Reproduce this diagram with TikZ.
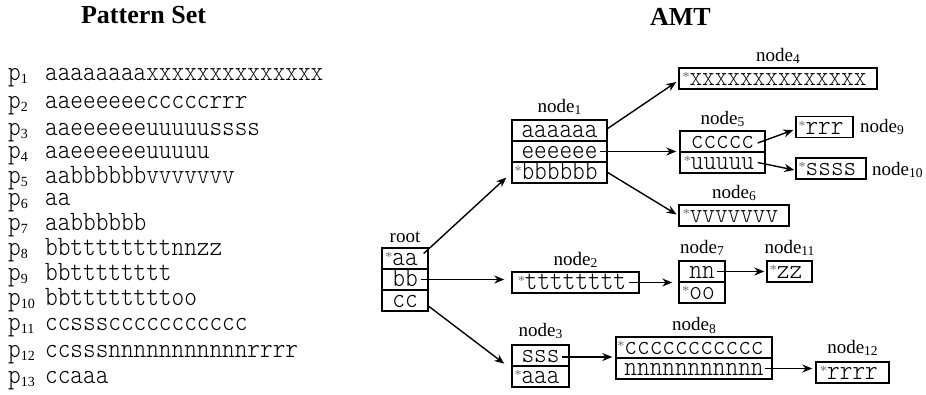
\documentclass[tikz,border=0pt]{standalone}
\usepackage{fontspec}
\setmainfont{Liberation Serif}
\newfontfamily\pmono{lmmonolt10-regular.otf}[FakeStretch=0.86]
\usetikzlibrary{arrows.meta}
\newcommand\psub[1]{\raisebox{-2.5pt}{\fontsize{13.5}{13.5}\selectfont #1}}
\newcommand\lsub[1]{\raisebox{-3pt}{\fontsize{14}{14}\selectfont\rmfamily #1}}
\newcommand\st{\llap{\raisebox{4pt}{\color{black!55}\fontsize{14}{14}\selectfont\rmfamily *}}}
\begin{document}
\begin{tikzpicture}[x=1pt,y=-1pt,
  cell/.style={draw, line width=1.4pt, inner xsep=0pt, inner ysep=0pt,
    minimum width=#1, minimum height=21pt, text height=17pt, text depth=2.5pt,
    font=\pmono\fontsize{28}{28}\selectfont},
  lbl/.style={font=\fontsize{19}{19}\selectfont, inner sep=0pt, anchor=base},
  ttl/.style={font=\fontsize{26}{26}\selectfont\bfseries, inner sep=0pt, anchor=base},
  pl/.style={font=\pmono\fontsize{28}{28}\selectfont, inner sep=0pt, anchor=base west},
  arr/.style={line width=1.4pt, -{Stealth[length=10pt,width=8pt]}}]
\useasboundingbox (0,0) rectangle (926,394);

% titles
\node[ttl] (t1) at (143.5,23) {Pattern Set};
\node[ttl] (t2) at (680.5,25.5) {AMT};

% pattern set
\node[pl] (l1) at (8,80) {p\lsub{1}};   \node[pl] (s1) at (45,80) {aaaaaaaaxxxxxxxxxxxxxx};
\node[pl] (l2) at (8,108) {p\lsub{2}};  \node[pl] (s2) at (45,108) {aaeeeeeecccccrrr};
\node[pl] (l3) at (8,135) {p\lsub{3}};  \node[pl] (s3) at (45,135) {aaeeeeeeuuuuussss};
\node[pl] (l4) at (8,158) {p\lsub{4}};  \node[pl] (s4) at (45,158) {aaeeeeeeuuuuu};
\node[pl] (l5) at (8,183) {p\lsub{5}};  \node[pl] (s5) at (45,183) {aabbbbbbvvvvvvv};
\node[pl] (l6) at (8,205) {p\lsub{6}};  \node[pl] (s6) at (45,205) {aa};
\node[pl] (l7) at (8,230) {p\lsub{7}};  \node[pl] (s7) at (45,230) {aabbbbbb};
\node[pl] (l8) at (8,255) {p\lsub{8}};  \node[pl] (s8) at (45,255) {bbttttttttnnzz};
\node[pl] (l9) at (8,280) {p\lsub{9}};  \node[pl] (s9) at (45,280) {bbtttttttt};
\node[pl] (l10) at (8,305) {p\lsub{10}}; \node[pl] (s10) at (45,305) {bbttttttttoo};
\node[pl] (l11) at (8,330) {p\lsub{11}}; \node[pl] (s11) at (45,330) {ccsssccccccccccc};
\node[pl] (l12) at (8,357) {p\lsub{12}}; \node[pl] (s12) at (45,357) {ccsssnnnnnnnnnnnrrrr};
\node[pl] (l13) at (8,383) {p\lsub{13}}; \node[pl] (s13) at (45,383) {ccaaa};

% AMT cells
\node[cell=46] (r1) at (405,258.5) {\st aa};
\node[cell=46] (r2) at (405,279.5) {bb};
\node[cell=46] (r3) at (405,300.5) {cc};
\node[cell=95] (n1a) at (559.5,130.5) {aaaaaa};
\node[cell=95] (n1b) at (559.5,151.5) {eeeeee};
\node[cell=95] (n1c) at (559.5,172.5) {\st bbbbbb};
\node[cell=127] (n2) at (575.5,282.5) {\st tttttttt};
\node[cell=57] (n3a) at (540.5,355.5) {sss};
\node[cell=57] (n3b) at (540.5,376.5) {\st aaa};
\node[cell=198] (n4) at (778,78.5) {\st xxxxxxxxxxxxxx};
\node[cell=85] (n5a) at (722.5,141.5) {ccccc};
\node[cell=85] (n5b) at (722.5,162.5) {\st uuuuu};
\node[cell=110] (n6) at (734,215.5) {\st vvvvvvv};
\node[cell=46] (n7a) at (702,271.5) {nn};
\node[cell=46] (n7b) at (702,292.5) {\st oo};
\node[cell=156] (n8a) at (694,347.5) {\st ccccccccccc};
\node[cell=156] (n8b) at (694,368.5) {nnnnnnnnnnn};
\node[cell=57] (n9) at (824.5,127) {\st rrr};
\node[cell=70] (n10) at (831,168.5) {\st ssss};
\node[cell=45] (n11) at (789.5,271.5) {\st zz};
\node[cell=73] (n12) at (852.5,372.5) {\st rrrr};

% labels
\node[lbl] (Lr) at ([yshift=5pt]r1.north) {root};
\node[lbl] (L1) at ([yshift=7pt]n1a.north) {node\psub{1}};
\node[lbl] (L2) at ([yshift=6pt]n2.north) {node\psub{2}};
\node[lbl] (L3) at ([yshift=8pt]n3a.north) {node\psub{3}};
\node[lbl] (L4) at ([yshift=6pt]n4.north) {node\psub{4}};
\node[lbl] (L5) at ([yshift=6pt]n5a.north) {node\psub{5}};
\node[lbl] (L6) at ([yshift=6pt]n6.north) {node\psub{6}};
\node[lbl] (L7) at ([yshift=7pt]n7a.north) {node\psub{7}};
\node[lbl] (L8) at ([yshift=5.5pt]n8a.north) {node\psub{8}};
\node[lbl] (L11) at ([yshift=7pt]n11.north) {node\psub{11}};
\node[lbl] (L12) at ([yshift=8pt]n12.north) {node\psub{12}};
\node[lbl, anchor=base west] (L9) at (860,132) {node\psub{9}};
\node[lbl, anchor=base west] (L10) at (872,175) {node\psub{10}};

% connectors
\draw[arr] ([shift={(-5pt,5pt)}]r1.east) -- ([shift={(-5pt,-5pt)}]n1c.west);
\draw[arr, shorten >=7pt] ([xshift=-8pt]r2.east) -- (r2.east -| n2.west);
\draw[arr] ([shift={(-1pt,-5pt)}]r3.east) -- ([shift={(-7pt,3pt)}]n3a.south west);
\draw[arr] ([yshift=2pt]n1a.east) -- ([shift={(-2pt,-3.5pt)}]n4.west);
\draw[arr, shorten >=3pt] ([xshift=-8pt]n1b.east) -- (n1b.east -| n5a.south west);
\draw[arr, shorten >=2pt] (n1c.east) -- (n6.west);
\draw[arr] ([shift={(-8pt,-1.5pt)}]n5a.east) -- ([shift={(-2pt,-3pt)}]n9.west);
\draw[arr] ([xshift=-8pt]n5b.east) -- ([shift={(-1pt,-1.5pt)}]n10.west);
\draw[arr, shorten >=6pt] ([xshift=-11pt]n2.east) -- (n2.east -| n7b.west);
\draw[arr, shorten >=2pt] ([xshift=-9pt]n7a.east) -- (n7a.east -| n11.west);
\draw[arr, shorten >=3pt] ([shift={(-8pt,-1.5pt)}]n3a.east) -- ([yshift=-1.5pt]n3a.east -| n8a.west);
\draw[arr, shorten >=3pt] ([xshift=-8pt]n8b.east) -- (n8b.east -| n12.west);
\end{tikzpicture}
\end{document}
